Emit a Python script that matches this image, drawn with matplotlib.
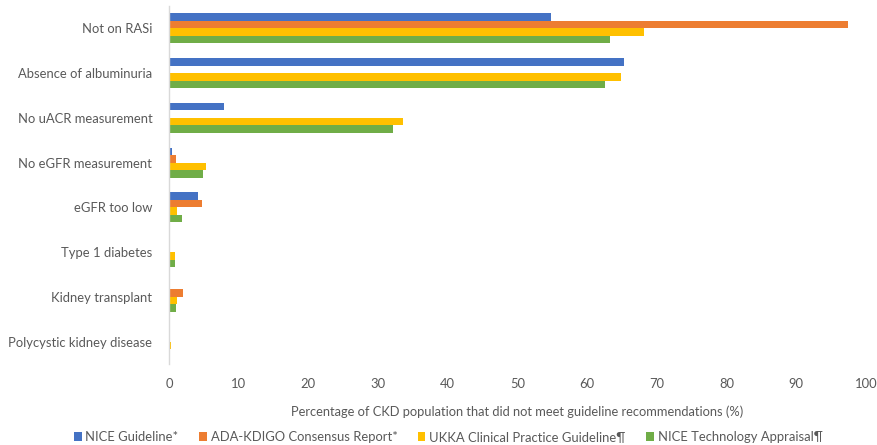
import matplotlib
matplotlib.use("Agg")
import matplotlib.pyplot as plt
import numpy as np
from matplotlib.patches import Patch

categories = [
    "Not on RASi",
    "Absence of albuminuria",
    "No uACR measurement",
    "No eGFR measurement",
    "eGFR too low",
    "Type 1 diabetes",
    "Kidney transplant",
    "Polycystic kidney disease",
]
series_names = [
    "NICE Guideline*",
    "ADA-KDIGO Consensus Report*",
    "UKKA Clinical Practice Guideline\u00b6",
    "NICE Technology Appraisal\u00b6",
]
nice_guideline = [54.8, 65.3, 7.9, 0.5, 4.2, 0.0, 0.0, 0.0]
ada_kdigo = [97.4, 0.0, 0.0, 1.0, 4.8, 0.0, 2.0, 0.0]
ukka = [68.1, 64.8, 33.6, 5.3, 1.1, 0.9, 1.1, 0.3]
nice_ta = [63.3, 62.5, 32.2, 4.9, 1.9, 0.8, 1.0, 0.0]
x_ticks = list(range(0, 101, 10))

colors = ["#4472C4", "#ED7D31", "#FFC000", "#70AD47"]
values = [nice_guideline, ada_kdigo, ukka, nice_ta]

plt.rcParams["font.family"] = ["Lato", "DejaVu Sans"]
text_color = "#595959"

fig = plt.figure(figsize=(8.77, 4.45), dpi=100)
ax = fig.add_axes([0.1927, 0.182, 0.7948, 0.8045])

y = np.arange(len(categories))
h = 0.168
for i, (vals, col, name) in enumerate(zip(values, colors, series_names)):
    ax.barh(y + (i - 1.5) * h, vals, height=h, color=col, label=name,
            edgecolor="none", zorder=2)

ax.set_ylim(len(categories) - 0.5, -0.5)
ax.set_xlim(0, 100)
ax.set_yticks(y)
ax.set_yticklabels(categories, fontsize=9.4, color=text_color)
ax.set_xticks(x_ticks)
ax.set_xticklabels([str(t) for t in x_ticks], fontsize=9.4, color=text_color)
ax.tick_params(axis="both", length=0)
ax.tick_params(axis="x", pad=10)
ax.tick_params(axis="y", pad=12)

for s in ["top", "right", "bottom"]:
    ax.spines[s].set_visible(False)
ax.spines["left"].set_color("#D9D9D9")
ax.spines["left"].set_linewidth(1.0)

ax.set_xlabel("Percentage of CKD population that did not meet guideline recommendations (%)",
              fontsize=9.3, color=text_color, labelpad=11)

handles = [Patch(facecolor=c, edgecolor="none") for c in colors]
fig.legend(handles, series_names, loc="center", bbox_to_anchor=(0.511, 0.018),
           ncol=4, frameon=False, fontsize=9.4, handlelength=0.6, handleheight=0.6,
           handletextpad=0.3, columnspacing=1.55, labelcolor=text_color)

fig.savefig("out.png", dpi=100)
